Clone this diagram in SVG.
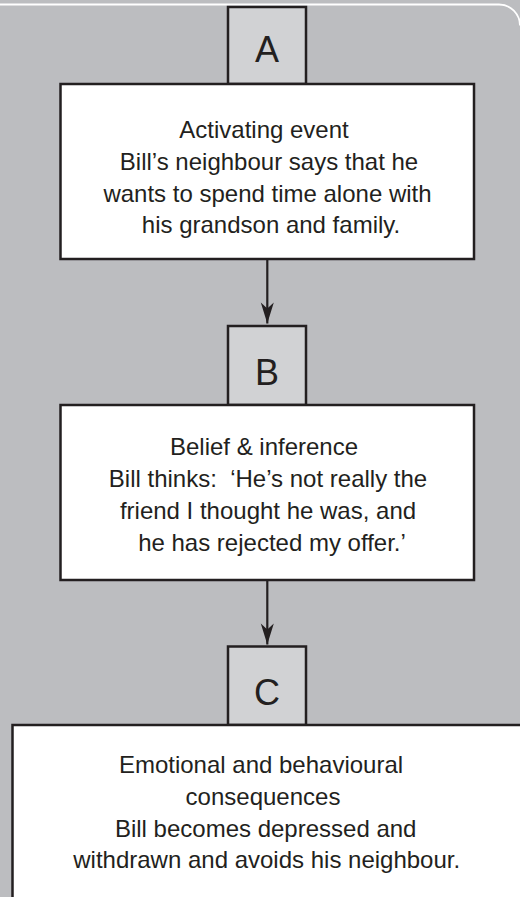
<svg xmlns="http://www.w3.org/2000/svg" width="520" height="897" viewBox="0 0 520 897">
  <style>
    .bg { fill: #bcbdc0; }
    .tab { fill: #d1d2d4; stroke: #231f20; stroke-width: 2.5; }
    .box { fill: #ffffff; stroke: #231f20; stroke-width: 2.5; }
    .letter { font-family: "Liberation Sans", Arial, sans-serif; font-size: 36px; fill: #231f20; text-anchor: middle; }
    .body { font-family: "Liberation Sans", Arial, sans-serif; font-size: 24px; fill: #231f20; text-anchor: middle; }
    .conn { stroke: #231f20; stroke-width: 2.2; fill: none; }
  </style>
  <defs>
    <marker id="arrow" markerUnits="userSpaceOnUse" markerWidth="24" markerHeight="16" viewBox="-22 -8 24 16" refX="0" refY="0" orient="auto">
      <path d="M0,0 L-21,-6.5 L-15,0 L-21,6.5 Z" fill="#231f20"/>
    </marker>
  </defs>

  <rect class="bg" x="0" y="0" width="520" height="897"/>
  <path d="M -5 4.5 H 499 A 21 21 0 0 1 520 25.5" fill="none" stroke="#ffffff" stroke-width="1.8"/>

  <g id="nodeA">
    <rect class="tab" x="228" y="7" width="78" height="77"/>
    <text class="letter" x="267" y="61.5">A</text>
    <rect class="box" x="60.5" y="84" width="413.5" height="175"/>
    <text class="body" x="264" y="137.5">Activating event</text>
    <text class="body" x="269" y="169.5">Bill’s neighbour says that he</text>
    <text class="body" x="267.5" y="201.5">wants to spend time alone with</text>
    <text class="body" x="271" y="233.3">his grandson and family.</text>
  </g>

  <g id="nodeB">
    <rect class="tab" x="228" y="326" width="78" height="79"/>
    <text class="letter" x="267" y="384.5">B</text>
    <rect class="box" x="60.5" y="405" width="413.5" height="175"/>
    <text class="body" x="264" y="455">Belief &amp; inference</text>
    <text class="body" x="268" y="487" xml:space="preserve">Bill thinks:  ‘He’s not really the</text>
    <text class="body" x="268" y="519">friend I thought he was, and</text>
    <text class="body" x="272" y="551">he has rejected my offer.’</text>
  </g>

  <g id="nodeC">
    <rect class="tab" x="228" y="646.5" width="78" height="78.5"/>
    <text class="letter" x="267" y="704.5">C</text>
    <rect class="box" x="12.5" y="725" width="530" height="200"/>
    <text class="body" x="261" y="772.7">Emotional and behavioural</text>
    <text class="body" x="263" y="805">consequences</text>
    <text class="body" x="265.7" y="836.7">Bill becomes depressed and</text>
    <text class="body" x="266.7" y="868.3">withdrawn and avoids his neighbour.</text>
  </g>

  <g id="connectors">
    <path class="conn" d="M 267.3 260 V 323.5" marker-end="url(#arrow)"/>
    <path class="conn" d="M 267.3 581 V 644.5" marker-end="url(#arrow)"/>
  </g>
</svg>
